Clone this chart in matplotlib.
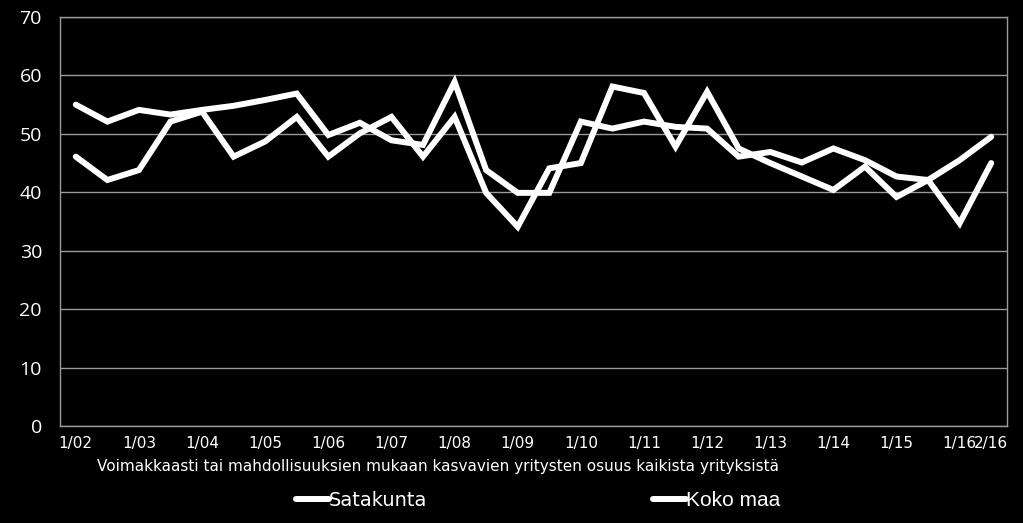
import matplotlib
matplotlib.use("Agg")
import matplotlib.pyplot as plt
import numpy as np

# puolivuosittaiset havainnot 1/02 ... 2/16
jaksot = ['1/02', '', '1/03', '', '1/04', '', '1/05', '', '1/06', '', '1/07', '',
          '1/08', '', '1/09', '', '1/10', '', '1/11', '', '1/12', '', '1/13', '',
          '1/14', '', '1/15', '', '1/16', '2/16']

satakunta = [46.1, 42.1, 43.8, 52.1, 53.8, 46.1, 48.7, 52.9, 46.1, 50.1,
             52.9, 46.1, 52.9, 39.9, 34.1, 44.1, 45.0, 58.1, 57.0, 47.8,
             57.2, 47.5, 45.0, 42.7, 40.4, 44.4, 39.2, 42.1, 34.7, 45.0]

koko_maa = [55.0, 52.1, 54.1, 53.3, 54.1, 54.8, 55.8, 56.9, 49.8, 51.9,
            48.9, 48.1, 58.9, 43.8, 39.9, 39.9, 52.1, 50.9, 52.1, 51.2,
            50.9, 46.1, 46.9, 45.1, 47.5, 45.5, 42.7, 42.1, 45.5, 49.5]

y_ticks = [0, 10, 20, 30, 40, 50, 60, 70]
otsikko_x = 'Voimakkaasti tai mahdollisuuksien mukaan kasvavien yritysten osuus kaikista yrityksistä'

fig = plt.figure(figsize=(10.23, 5.23), dpi=100, facecolor='black')
ax = fig.add_axes([60 / 1023, 1 - 426 / 523, 947 / 1023, 409 / 523])
ax.set_facecolor('black')

x = np.arange(len(jaksot))
l1, = ax.plot(x, satakunta, color='white', lw=4.3, solid_joinstyle='miter',
              solid_capstyle='round', label='Satakunta')
l2, = ax.plot(x, koko_maa, color='white', lw=4.3, solid_joinstyle='miter',
              solid_capstyle='round', label='Koko maa')

ax.set_xlim(-0.5, len(jaksot) - 0.5)
ax.set_ylim(0, 70)
ax.set_yticks(y_ticks)
ax.set_yticklabels([str(v) for v in y_ticks], fontsize=14, color='white', family='Open Sans')
nayta = [i for i, s in enumerate(jaksot) if s]
ax.set_xticks(nayta)
ax.set_xticklabels([jaksot[i] for i in nayta], fontsize=11, color='white')
ax.tick_params(axis='y', length=0, pad=13)
ax.tick_params(axis='x', length=0, pad=7)
ax.grid(axis='y', color='#9a9a9a', lw=1)
ax.set_axisbelow(True)
for s in ax.spines.values():
    s.set_color('#9a9a9a')
    s.set_linewidth(1)

fig.text(97 / 1023, 1 - 467 / 523, otsikko_x, color='white', fontsize=11,
         ha='left', va='center')

leg = fig.legend(handles=[l1, l2], loc='center left', bbox_to_anchor=(296 / 1023, 1 - 500 / 523),
                 ncol=2, frameon=False, handlelength=1.7, handletextpad=0.0,
                 borderpad=0, borderaxespad=0, columnspacing=11.6, fontsize=14,
                 labelcolor='white')
leg.get_texts()[1].set_family('Liberation Sans')
leg.get_texts()[1].set_fontsize(15)

fig.savefig('out.png', dpi=100, facecolor='black')
